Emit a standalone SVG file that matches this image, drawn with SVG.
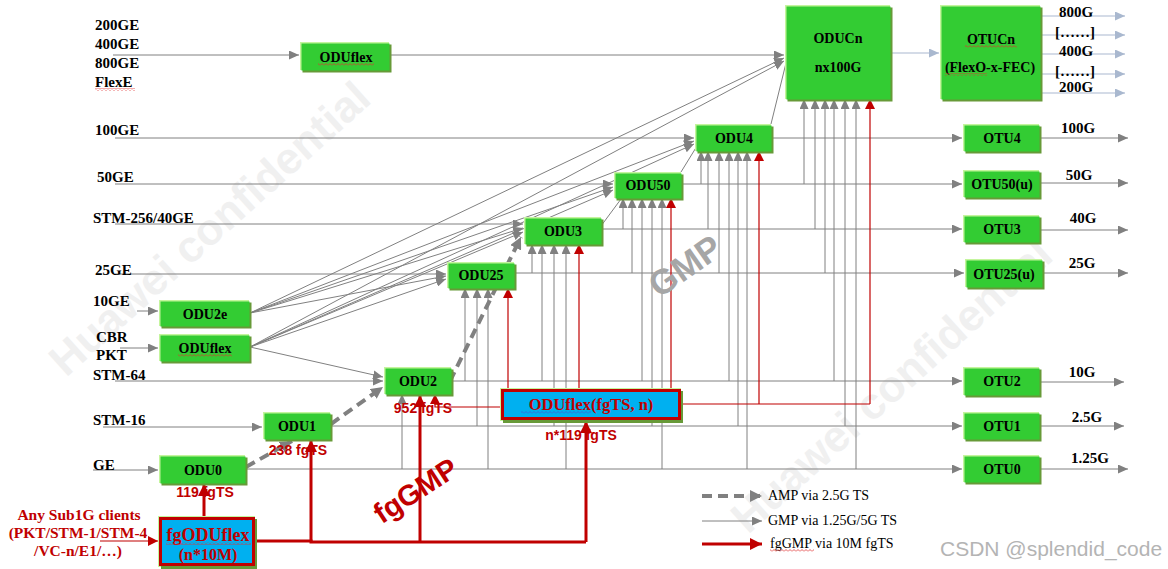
<svg xmlns="http://www.w3.org/2000/svg" width="1168" height="569" viewBox="0 0 1168 569">
<defs>
<style>
.hl{fill:#c4f59d}
.sd{fill:#679a38}
.bx{fill:#33cc33}
.nt{font-family:"Liberation Serif",serif;font-weight:bold;font-size:14px;fill:#000;text-anchor:middle}
.lb{font-family:"Liberation Serif",serif;font-weight:bold;font-size:15px;fill:#000}
.rl{font-family:"Liberation Serif",serif;font-weight:bold;font-size:15px;fill:#000;text-anchor:middle}
.rt{font-family:"Liberation Sans",Arial,sans-serif;font-weight:bold;font-size:14px;fill:#c00000;text-anchor:middle}
.lg{font-family:"Liberation Serif",serif;font-size:14px;fill:#000}
.g{stroke:#808080;stroke-width:1;fill:none}
.ga{stroke:#808080;stroke-width:1;fill:none;marker-end:url(#ag)}
.ra{stroke:#c00000;stroke-width:1.2;fill:none;marker-end:url(#ar)}
.r{stroke:#c00000;stroke-width:1.2;fill:none}
.rb{stroke:#c00000;stroke-width:3;fill:none}
.rba{stroke:#c00000;stroke-width:3;fill:none;marker-end:url(#arb)}
.am{stroke:#808080;stroke-width:4;stroke-dasharray:10,6;fill:none;marker-end:url(#aam)}
.ba{stroke:#a9b8cf;stroke-width:1.2;fill:none;marker-end:url(#ab)}
.wm{font-family:"Liberation Sans",Arial,sans-serif;font-weight:bold;font-size:44px;fill:#f0f0f0}
</style>
<marker id="ag" viewBox="0 0 10 9" refX="10" refY="4.5" markerWidth="10" markerHeight="9" markerUnits="userSpaceOnUse" orient="auto"><path d="M0,0 L10,4.5 L0,9 z" fill="#808080"/></marker>
<marker id="ar" viewBox="0 0 10 10" refX="10" refY="5" markerWidth="10" markerHeight="10" markerUnits="userSpaceOnUse" orient="auto"><path d="M0,0 L10,5 L0,10 z" fill="#c00000"/></marker>
<marker id="arb" viewBox="0 0 12 12" refX="12" refY="6" markerWidth="12" markerHeight="12" markerUnits="userSpaceOnUse" orient="auto"><path d="M0,0 L12,6 L0,12 z" fill="#c00000"/></marker>
<marker id="aam" viewBox="0 0 12 12" refX="12" refY="6" markerWidth="12" markerHeight="12" markerUnits="userSpaceOnUse" orient="auto"><path d="M0,0 L12,6 L0,12 z" fill="#808080"/></marker>
<marker id="ab" viewBox="0 0 10 9" refX="10" refY="4.5" markerWidth="10" markerHeight="9" markerUnits="userSpaceOnUse" orient="auto"><path d="M0,0 L10,4.5 L0,9 z" fill="#a9b8cf"/></marker>
<pattern id="wv" width="4" height="3" patternUnits="userSpaceOnUse"><path d="M0,2.5 L2,0.5 L4,2.5" stroke="#e03030" stroke-width="0.8" fill="none"/></pattern>
<pattern id="wvb" width="4" height="3" patternUnits="userSpaceOnUse"><path d="M0,2.5 L2,0.5 L4,2.5" stroke="#4060d0" stroke-width="0.8" fill="none"/></pattern>
</defs>
<rect width="1168" height="569" fill="#ffffff"/>

<g id="watermarks">
<text class="wm" transform="translate(66,378) rotate(-42)">Huawei confidential</text>
<text class="wm" transform="translate(748,535) rotate(-42)">Huawei confidential</text>
</g>

<g id="connectors">
<line class="ga" x1="113" y1="55" x2="299" y2="55"/>
<line class="ga" x1="389" y1="55" x2="784" y2="55"/>
<line class="ga" x1="115" y1="138" x2="694" y2="138"/>
<line class="ga" x1="115" y1="184" x2="613" y2="184"/>
<line class="ga" x1="115" y1="224" x2="523" y2="224"/>
<line class="ga" x1="115" y1="274" x2="446" y2="274"/>
<line class="ga" x1="137" y1="311" x2="158" y2="311"/>
<line class="ga" x1="120" y1="348" x2="158" y2="348"/>
<line class="ga" x1="115" y1="381" x2="383" y2="381"/>
<line class="ga" x1="103" y1="427" x2="262" y2="427"/>
<line class="ga" x1="93" y1="470" x2="158" y2="470"/>
<line class="ga" x1="250" y1="313" x2="446" y2="276"/>
<line class="ga" x1="250" y1="313" x2="523" y2="228"/>
<line class="ga" x1="250" y1="313" x2="613" y2="187"/>
<line class="ga" x1="250" y1="313" x2="694" y2="141"/>
<line class="ga" x1="250" y1="313" x2="784" y2="58"/>
<line class="ga" x1="250" y1="347" x2="446" y2="279"/>
<line class="ga" x1="250" y1="347" x2="523" y2="232"/>
<line class="ga" x1="250" y1="347" x2="613" y2="190"/>
<line class="ga" x1="250" y1="347" x2="694" y2="144"/>
<line class="ga" x1="250" y1="347" x2="784" y2="61"/>
<line class="ga" x1="250" y1="347" x2="383" y2="377"/>
<line class="g" x1="601" y1="226" x2="621" y2="199"/>
<line class="g" x1="681" y1="172" x2="697" y2="146"/>
<line class="g" x1="771" y1="124" x2="786" y2="63"/>
<line class="ga" x1="771" y1="138" x2="962" y2="138"/>
<line class="ga" x1="681" y1="184" x2="962" y2="184"/>
<line class="ga" x1="601" y1="229" x2="962" y2="229"/>
<line class="ga" x1="514" y1="273" x2="964" y2="273"/>
<line class="ga" x1="451" y1="381" x2="962" y2="381"/>
<line class="ga" x1="330" y1="426" x2="962" y2="426"/>
<line class="ga" x1="245" y1="469" x2="962" y2="469"/>
<line class="ga" x1="1039" y1="138" x2="1128" y2="138"/>
<line class="ga" x1="1039" y1="183" x2="1128" y2="183"/>
<line class="ga" x1="1039" y1="230" x2="1128" y2="230"/>
<line class="ga" x1="1042" y1="273" x2="1128" y2="273"/>
<line class="ga" x1="1039" y1="382" x2="1124" y2="382"/>
<line class="ga" x1="1039" y1="426" x2="1124" y2="426"/>
<line class="ga" x1="1039" y1="469" x2="1128" y2="469"/>
<line class="ga" x1="804" y1="184" x2="804" y2="99"/>
<line class="ga" x1="815" y1="229" x2="815" y2="99"/>
<line class="ga" x1="825" y1="273" x2="825" y2="99"/>
<line class="ga" x1="834" y1="381" x2="834" y2="99"/>
<line class="ga" x1="845" y1="426" x2="845" y2="99"/>
<line class="ga" x1="856" y1="469" x2="856" y2="99"/>
<line class="ga" x1="701" y1="184" x2="701" y2="151"/>
<line class="ga" x1="708" y1="229" x2="708" y2="151"/>
<line class="ga" x1="719" y1="273" x2="719" y2="151"/>
<line class="ga" x1="729" y1="381" x2="729" y2="151"/>
<line class="ga" x1="738" y1="426" x2="738" y2="151"/>
<line class="ga" x1="747" y1="469" x2="747" y2="151"/>
<line class="ga" x1="623" y1="229" x2="623" y2="198"/>
<line class="ga" x1="632" y1="273" x2="632" y2="198"/>
<line class="ga" x1="642" y1="381" x2="642" y2="198"/>
<line class="ga" x1="652" y1="426" x2="652" y2="198"/>
<line class="ga" x1="662" y1="469" x2="662" y2="198"/>
<line class="ga" x1="532" y1="273" x2="532" y2="244"/>
<line class="ga" x1="542" y1="381" x2="542" y2="244"/>
<line class="ga" x1="554" y1="426" x2="554" y2="244"/>
<line class="ga" x1="566" y1="469" x2="566" y2="244"/>
<line class="ga" x1="465" y1="381" x2="465" y2="288"/>
<line class="ga" x1="477" y1="426" x2="477" y2="288"/>
<line class="ga" x1="488" y1="469" x2="488" y2="288"/>
<line class="ga" x1="402" y1="469" x2="402" y2="394"/>
<line class="am" x1="246" y1="467" x2="292" y2="441"/>
<line class="am" x1="331" y1="424" x2="383" y2="387"/>
<line class="am" x1="450" y1="381" x2="521" y2="237"/>
<line class="r" x1="680" y1="404" x2="870" y2="404"/>
<line class="ra" x1="870" y1="404" x2="870" y2="99"/>
<line class="ra" x1="759" y1="404" x2="759" y2="151"/>
<line class="ra" x1="671" y1="389" x2="671" y2="198"/>
<line class="ra" x1="579" y1="389" x2="579" y2="244"/>
<line class="ra" x1="508" y1="389" x2="508" y2="288"/>
<path class="ra" d="M501,407 H435 V394"/>
<line class="ra" x1="100" y1="541" x2="158" y2="541"/>
<line class="rba" x1="204" y1="517" x2="204" y2="484"/>
<polyline class="rb" points="255,541 311,541 311,542 586,542"/>
<line class="rba" x1="311" y1="541" x2="311" y2="440"/>
<line class="rba" x1="420" y1="542" x2="420" y2="395"/>
<line class="rba" x1="586" y1="542" x2="586" y2="421"/>
<line class="ba" x1="890" y1="53" x2="939" y2="53"/>
<line class="ba" x1="1029" y1="16" x2="1125" y2="16"/>
<line class="ba" x1="1029" y1="35" x2="1125" y2="35"/>
<line class="ba" x1="1029" y1="54" x2="1125" y2="54"/>
<line class="ba" x1="1029" y1="74" x2="1125" y2="74"/>
<line class="ba" x1="1029" y1="93" x2="1125" y2="93"/>
</g>

<g id="n-oduflex-top"><rect class="hl" x="300" y="42" width="89" height="28"/><rect class="sd" x="302.5" y="44.5" width="89" height="28"/><rect class="bx" x="301.5" y="43.5" width="88" height="27"/><text class="nt" x="346" y="62">ODUflex</text><rect x="318" y="63" width="56" height="3" fill="url(#wv)"/></g>
<g id="n-oducn"><rect class="hl" x="785" y="5" width="105" height="94"/><rect class="sd" x="787.5" y="7.5" width="105" height="94"/><rect class="bx" x="786.5" y="6.5" width="104" height="93"/><text class="nt" x="838" y="43">ODUCn</text><text class="nt" x="838" y="72">nx100G</text></g>
<g id="n-otucn"><rect class="hl" x="940" y="5" width="100" height="94"/><rect class="sd" x="942.5" y="7.5" width="100" height="94"/><rect class="bx" x="941.5" y="6.5" width="99" height="93"/><text class="nt" x="991" y="44">OTUCn</text><text class="nt" x="990" y="72">(FlexO-x-FEC)</text><rect x="965" y="45" width="52" height="3" fill="url(#wv)"/><rect x="945" y="73" width="42" height="3" fill="url(#wv)"/></g>
<g id="n-odu4"><rect class="hl" x="695" y="124" width="76" height="27"/><rect class="sd" x="697.5" y="126.5" width="76" height="27"/><rect class="bx" x="696.5" y="125.5" width="75" height="26"/><text class="nt" x="734" y="143">ODU4</text></g>
<g id="n-otu4"><rect class="hl" x="963" y="124" width="76" height="27"/><rect class="sd" x="965.5" y="126.5" width="76" height="27"/><rect class="bx" x="964.5" y="125.5" width="75" height="26"/><text class="nt" x="1002" y="143">OTU4</text></g>
<g id="n-odu50"><rect class="hl" x="614" y="172" width="67" height="26"/><rect class="sd" x="616.5" y="174.5" width="67" height="26"/><rect class="bx" x="615.5" y="173.5" width="66" height="25"/><text class="nt" x="648" y="190">ODU50</text></g>
<g id="n-otu50"><rect class="hl" x="963" y="170" width="76" height="27"/><rect class="sd" x="965.5" y="172.5" width="76" height="27"/><rect class="bx" x="964.5" y="171.5" width="75" height="26"/><text class="nt" x="1002" y="189">OTU50(u)</text></g>
<g id="n-odu3"><rect class="hl" x="524" y="217" width="77" height="27"/><rect class="sd" x="526.5" y="219.5" width="77" height="27"/><rect class="bx" x="525.5" y="218.5" width="76" height="26"/><text class="nt" x="563" y="236">ODU3</text></g>
<g id="n-otu3"><rect class="hl" x="963" y="215" width="76" height="27"/><rect class="sd" x="965.5" y="217.5" width="76" height="27"/><rect class="bx" x="964.5" y="216.5" width="75" height="26"/><text class="nt" x="1002" y="234">OTU3</text></g>
<g id="n-odu25"><rect class="hl" x="447" y="262" width="67" height="26"/><rect class="sd" x="449.5" y="264.5" width="67" height="26"/><rect class="bx" x="448.5" y="263.5" width="66" height="25"/><text class="nt" x="481" y="280">ODU25</text></g>
<g id="n-otu25"><rect class="hl" x="965" y="259" width="77" height="28"/><rect class="sd" x="967.5" y="261.5" width="77" height="28"/><rect class="bx" x="966.5" y="260.5" width="76" height="27"/><text class="nt" x="1004" y="279">OTU25(u)</text></g>
<g id="n-odu2e"><rect class="hl" x="159" y="300" width="90" height="26"/><rect class="sd" x="161.5" y="302.5" width="90" height="26"/><rect class="bx" x="160.5" y="301.5" width="89" height="25"/><text class="nt" x="205" y="319">ODU2e</text></g>
<g id="n-oduflex-mid"><rect class="hl" x="159" y="334" width="90" height="27"/><rect class="sd" x="161.5" y="336.5" width="90" height="27"/><rect class="bx" x="160.5" y="335.5" width="89" height="26"/><text class="nt" x="205" y="353">ODUflex</text><rect x="178" y="354" width="54" height="3" fill="url(#wv)"/></g>
<g id="n-odu2"><rect class="hl" x="384" y="367" width="67" height="27"/><rect class="sd" x="386.5" y="369.5" width="67" height="27"/><rect class="bx" x="385.5" y="368.5" width="66" height="26"/><text class="nt" x="418" y="386">ODU2</text></g>
<g id="n-otu2"><rect class="hl" x="963" y="367" width="76" height="28"/><rect class="sd" x="965.5" y="369.5" width="76" height="28"/><rect class="bx" x="964.5" y="368.5" width="75" height="27"/><text class="nt" x="1002" y="386">OTU2</text></g>
<g id="n-odu1"><rect class="hl" x="263" y="412" width="67" height="27"/><rect class="sd" x="265.5" y="414.5" width="67" height="27"/><rect class="bx" x="264.5" y="413.5" width="66" height="26"/><text class="nt" x="297" y="431">ODU1</text></g>
<g id="n-otu1"><rect class="hl" x="963" y="412" width="76" height="27"/><rect class="sd" x="965.5" y="414.5" width="76" height="27"/><rect class="bx" x="964.5" y="413.5" width="75" height="26"/><text class="nt" x="1002" y="431">OTU1</text></g>
<g id="n-odu0"><rect class="hl" x="159" y="455" width="86" height="28"/><rect class="sd" x="161.5" y="457.5" width="86" height="28"/><rect class="bx" x="160.5" y="456.5" width="85" height="27"/><text class="nt" x="203" y="475">ODU0</text></g>
<g id="n-otu0"><rect class="hl" x="963" y="455" width="76" height="27"/><rect class="sd" x="965.5" y="457.5" width="76" height="27"/><rect class="bx" x="964.5" y="456.5" width="75" height="26"/><text class="nt" x="1002" y="474">OTU0</text></g>
<g id="n-oduflex-fgts"><rect class="hl" x="500" y="388" width="181" height="33"/><rect class="sd" x="503" y="391" width="180" height="32"/><rect x="502.5" y="390.5" width="177" height="28" fill="#00b0f0" stroke="#c00000" stroke-width="3"/><text x="591" y="410" font-family="Liberation Serif, serif" font-weight="bold" font-size="16.5px" fill="#c00000" text-anchor="middle">ODUflex(fgTS, n)</text><rect x="521" y="411" width="70" height="3" fill="url(#wvb)"/></g>
<g id="n-fgoduflex"><rect class="hl" x="158" y="516" width="97" height="51"/><rect class="sd" x="161" y="519" width="96" height="50"/><rect x="160.5" y="518.5" width="93" height="46" fill="#00b0f0" stroke="#c00000" stroke-width="3"/><text x="208" y="541" font-family="Liberation Serif, serif" font-weight="bold" font-size="18px" fill="#c00000" text-anchor="middle">fgODUflex</text><text x="208" y="560" font-family="Liberation Serif, serif" font-weight="bold" font-size="16px" fill="#c00000" text-anchor="middle">(n*10M)</text><rect x="166" y="542" width="85" height="3" fill="url(#wv)"/></g>

<g id="labels">
<text class="lb" x="95" y="30">200GE</text>
<text class="lb" x="95" y="49">400GE</text>
<text class="lb" x="95" y="68">800GE</text>
<text class="lb" x="95" y="87">FlexE</text>
<rect x="95" y="88" width="40" height="3" fill="url(#wv)"/>
<text class="lb" x="95" y="135">100GE</text>
<text class="lb" x="97" y="182">50GE</text>
<text class="lb" x="93" y="223">STM-256/40GE</text>
<text class="lb" x="95" y="275">25GE</text>
<text class="lb" x="93" y="306">10GE</text>
<text class="lb" x="96" y="342">CBR</text>
<text class="lb" x="96" y="360">PKT</text>
<text class="lb" x="93" y="380">STM-64</text>
<text class="lb" x="93" y="425">STM-16</text>
<text class="lb" x="93" y="470">GE</text>
<text class="rl" x="1076" y="17">800G</text>
<text class="rl" x="1075" y="37">[……]</text>
<text class="rl" x="1076" y="56">400G</text>
<text class="rl" x="1075" y="76">[……]</text>
<text class="rl" x="1076" y="92">200G</text>
<text class="rl" x="1078" y="133">100G</text>
<text class="rl" x="1079" y="180">50G</text>
<text class="rl" x="1083" y="223">40G</text>
<text class="rl" x="1082" y="268">25G</text>
<text class="rl" x="1082" y="377">10G</text>
<text class="rl" x="1087" y="422">2.5G</text>
<text class="rl" x="1090" y="463">1.25G</text>
<text class="rt" x="205" y="497">119 fgTS</text>
<text class="rt" x="298" y="455">238 fgTS</text>
<text class="rt" x="423" y="413">952 fgTS</text>
<text class="rt" x="581" y="440">n*119 fgTS</text>
<g font-family="Liberation Serif, serif" font-weight="bold" font-size="15.5px" fill="#c00000" text-anchor="middle">
<text x="79" y="520">Any Sub1G clients</text>
<text x="78" y="538">(PKT/STM-1/STM-4</text>
<text x="78" y="556">/VC-n/E1/…)</text>
</g>
<text x="692" y="276" transform="rotate(-35 692 276)" font-family="Liberation Sans, Arial, sans-serif" font-weight="bold" font-size="35px" fill="#a6a6a6" text-anchor="middle">GMP</text>
<text x="421" y="499" transform="rotate(-33 421 499)" font-family="Liberation Sans, Arial, sans-serif" font-weight="bold" font-size="29px" fill="#c00000" text-anchor="middle">fgGMP</text>
<text x="940" y="556" font-family="Liberation Sans, Arial, sans-serif" font-size="21px" fill="#b4b4b4">CSDN @splendid_code</text>
</g>

<g id="legend">
<line class="am" x1="702" y1="496" x2="762" y2="496"/>
<line class="ga" x1="702" y1="521" x2="762" y2="521"/>
<line class="rba" x1="702" y1="544" x2="762" y2="544"/>
<text class="lg" x="768" y="500">AMP via 2.5G TS</text>
<text class="lg" x="768" y="525">GMP via 1.25G/5G TS</text>
<text class="lg" x="770" y="548">fgGMP via 10M fgTS</text>
<rect x="770" y="549" width="44" height="3" fill="url(#wv)"/>
</g>
</svg>
